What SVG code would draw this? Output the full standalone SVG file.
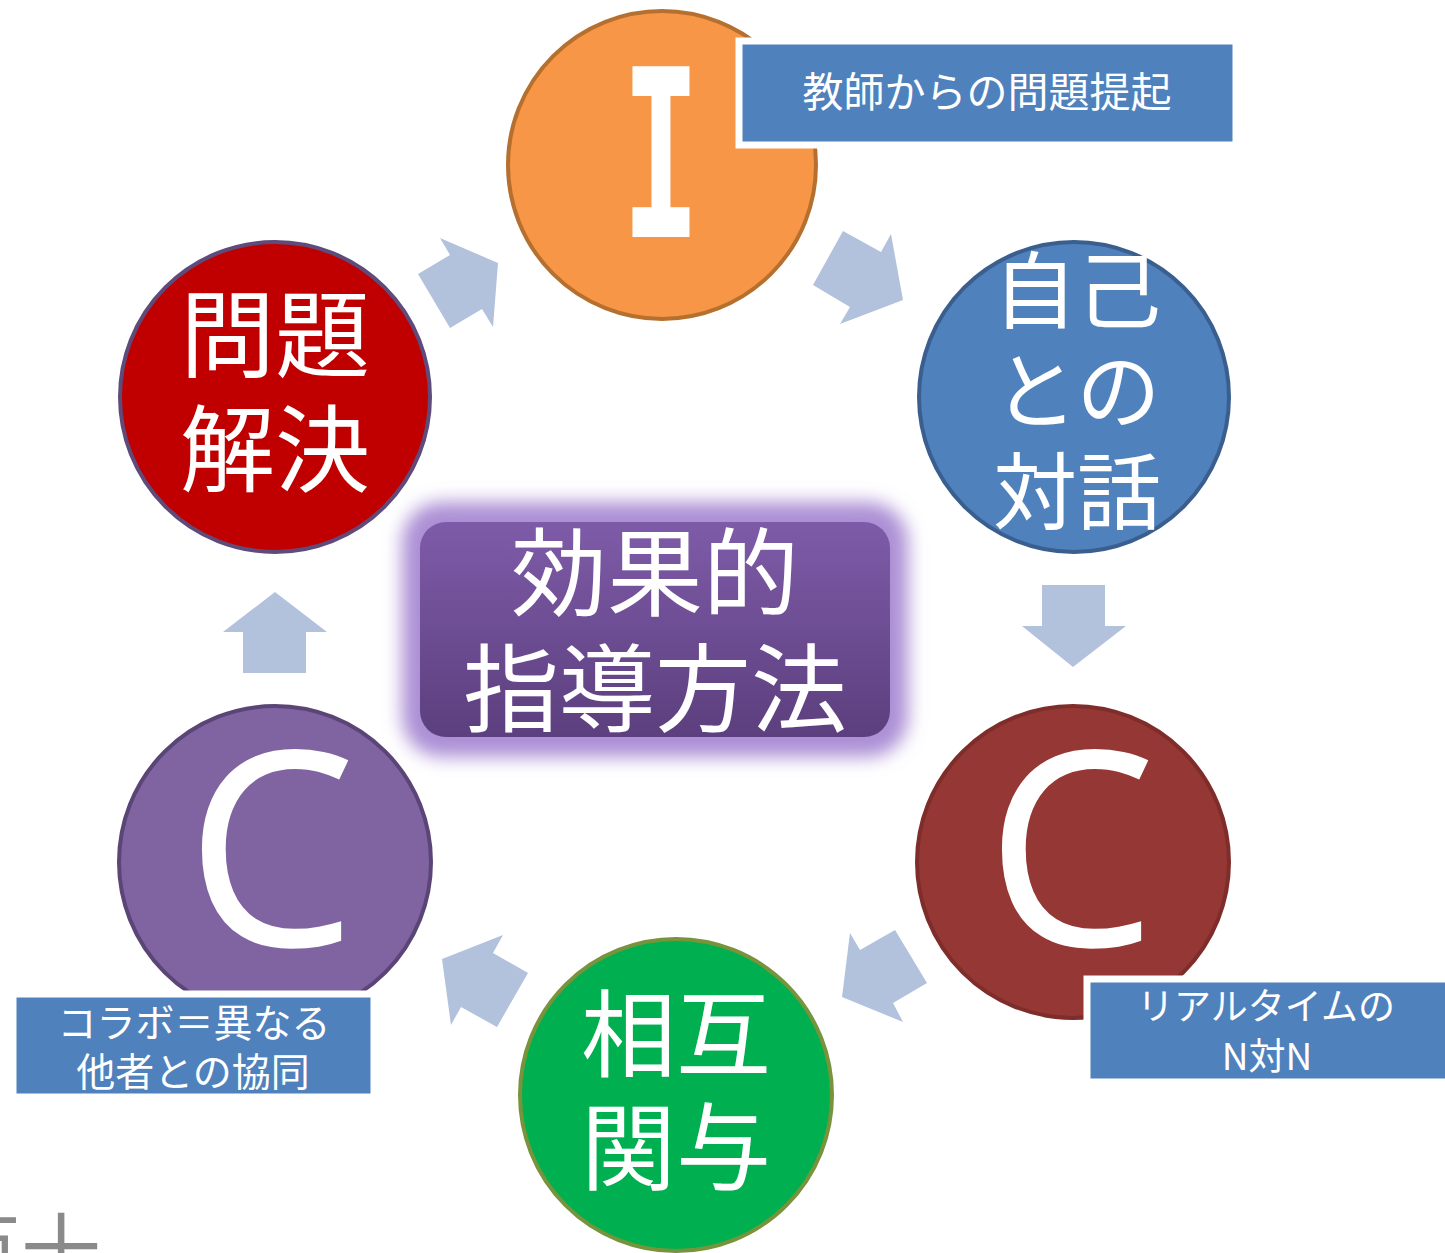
<svg xmlns="http://www.w3.org/2000/svg" width="1445" height="1253" viewBox="0 0 1445 1253">
<style>
  .jp { font-family: "Noto Sans CJK JP", "Noto Sans", sans-serif; fill: #ffffff; text-anchor: middle; }
  .big { font-size: 95px; }
  .lbl { font-size: 39px; }
  .arrow { fill: #B2C2DD; }
  .tag { fill: #4F81BD; stroke: #ffffff; stroke-width: 7; }
  .ring { stroke-width: 4; }
  .cap { font-family: "Open Sans", "Liberation Sans", sans-serif; font-size: 272px; fill: #ffffff; text-anchor: middle; }
</style>
<defs>
  <linearGradient id="boxGrad" x1="0" y1="0" x2="0" y2="1">
    <stop offset="0" stop-color="#7E5BA8"/>
    <stop offset="1" stop-color="#5C3F7E"/>
  </linearGradient>
  <filter id="glow" x="-20%" y="-30%" width="140%" height="160%">
    <feGaussianBlur stdDeviation="9"/>
  </filter>
</defs>
<rect width="1445" height="1253" fill="#ffffff"/>

<g id="connectors">
  <polygon class="arrow" points="418,274 450,255 440,238 498,263 493,327 482,309 450,328"/>
  <polygon class="arrow" points="813,285 843,231 881,252 891,234 903,300 840,324 850,307"/>
  <polygon class="arrow" points="1042,585 1105,585 1105,626 1126,626 1073,667 1022,626 1042,626"/>
  <polygon class="arrow" points="850,933 860,950 895,930 927,983 893,1003 903,1022 842,997"/>
  <polygon class="arrow" points="503,935 493,953 528,973 497,1027 461,1007 451,1025 442,959"/>
  <polygon class="arrow" points="275,592 327,632 306,632 306,673 243,673 243,632 223,632"/>
</g>

<g id="center">
  <rect x="402" y="502" width="506" height="255" rx="40" fill="#AC8FD5" filter="url(#glow)"/>
  <rect x="420" y="522" width="470" height="215" rx="26" fill="url(#boxGrad)"/>
  <text class="jp" x="655" y="608" font-size="96">効果的</text>
  <text class="jp" x="655" y="724" font-size="96">指導方法</text>
</g>

<g id="node-I">
  <circle class="ring" cx="662" cy="165" r="154" fill="#F79646" stroke="#B5702F"/>
  <text x="661" y="237" font-family="DejaVu Sans Mono, monospace" font-weight="bold" font-size="234" fill="#ffffff" text-anchor="middle" transform="translate(661,0) scale(0.56,1) translate(-661,0)">I</text>
</g>

<g id="node-jiko">
  <circle class="ring" cx="1074" cy="397" r="155" fill="#4F81BD" stroke="#3A5F8F"/>
  <text class="jp" x="1077" y="322" font-size="84">自己</text>
  <text class="jp" x="1077" y="422" font-size="84">との</text>
  <text class="jp" x="1077" y="523" font-size="84">対話</text>
</g>

<g id="node-C-right">
  <circle class="ring" cx="1073" cy="862" r="156" fill="#953735" stroke="#7E2D2B"/>
  <text class="cap" x="1071" y="946">C</text>
</g>

<g id="node-sougo">
  <circle class="ring" cx="676" cy="1095" r="156" fill="#00B050" stroke="#77933C"/>
  <text class="jp big" x="676" y="1070">相互</text>
  <text class="jp big" x="676" y="1183">関与</text>
</g>

<g id="node-C-left">
  <circle class="ring" cx="275" cy="862" r="156" fill="#8064A2" stroke="#5B4577"/>
  <text class="cap" x="271" y="946">C</text>
</g>

<g id="node-mondai">
  <circle class="ring" cx="275" cy="397" r="155" fill="#C00000" stroke="#5F4B7A"/>
  <text class="jp big" x="275" y="370">問題</text>
  <text class="jp big" x="275" y="485">解決</text>
</g>

<g id="label-top">
  <rect class="tag" x="739" y="41" width="497" height="104"/>
  <text class="jp" x="987" y="107" font-size="41">教師からの問題提起</text>
</g>

<g id="label-right">
  <rect class="tag" x="1087" y="979" width="362" height="103"/>
  <text class="jp" x="1266" y="1020" font-size="37">リアルタイムの</text>
  <text class="jp" x="1267" y="1070" font-size="37">N対N</text>
</g>

<g id="label-left">
  <rect class="tag" x="13" y="994" width="361" height="103"/>
  <text class="jp" x="194" y="1037" font-size="39">コラボ＝異なる</text>
  <text class="jp" x="193" y="1086" font-size="39">他者との協同</text>
</g>

<g id="fragment">
  <text x="-59" y="1280" font-family="Noto Sans CJK JP, sans-serif" font-size="80" fill="#8A8A8A">百十</text>
</g>
</svg>
